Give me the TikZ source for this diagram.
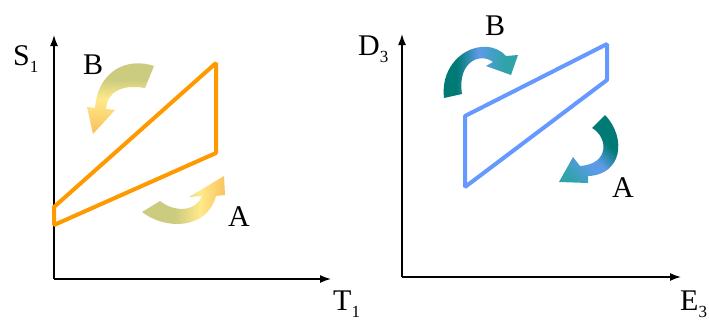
\documentclass[tikz,border=0pt]{standalone}
\usepackage{fontspec}
\setmainfont{Liberation Serif}
\usetikzlibrary{arrows.meta}
\definecolor{orangeline}{HTML}{FF9900}
\definecolor{blueline}{HTML}{6699FF}
\definecolor{khaki}{HTML}{CCCC80}
\definecolor{yellowL}{HTML}{FFE98A}
\definecolor{orangeL}{HTML}{F9C35F}
\definecolor{darkteal}{HTML}{007A74}
\definecolor{bluemid}{HTML}{5C9BE6}
\definecolor{tealh}{HTML}{2FA3A9}
\pgfdeclareverticalshading{shLB}{100bp}{color(0bp)=(orangeL); color(27bp)=(orangeL); color(48bp)=(yellowL); color(60bp)=(khaki); color(100bp)=(khaki)}
\pgfdeclarehorizontalshading{shLA}{100bp}{color(0bp)=(khaki); color(45bp)=(khaki); color(60bp)=(yellowL); color(75bp)=(orangeL); color(100bp)=(orangeL)}
\pgfdeclarehorizontalshading{shRB}{100bp}{color(0bp)=(darkteal); color(36bp)=(darkteal); color(50bp)=(bluemid); color(66bp)=(tealh); color(100bp)=(tealh)}
\pgfdeclarehorizontalshading{shRA}{100bp}{color(0bp)=(tealh); color(22bp)=(tealh); color(40bp)=(bluemid); color(46bp)=(bluemid); color(60bp)=(darkteal); color(100bp)=(darkteal)}
\newcommand{\sbs}[1]{\raisebox{-7pt}{\fontsize{17}{17}\selectfont #1}}
\tikzset{
  lbl/.style={inner sep=0pt, anchor=base west, font=\rmfamily\fontsize{30}{30}\selectfont},
  axisline/.style={line width=1.5pt, -{Latex[length=11pt,width=8pt]}},
  cycleline/.style={line width=4pt, line join=bevel},
}
\begin{document}
\begin{tikzpicture}[x=1pt,y=-1pt]
\useasboundingbox (0,0) rectangle (709,322);
% ---------- left panel ----------
\coordinate (o1) at (54,279);
\coordinate (y1) at (54,35);
\coordinate (x1) at (331,279);
\draw[axisline] (o1) -- (y1);
\draw[axisline] (o1) -- (x1);
\draw[cycleline, orangeline] (54,207) -- (216,63) -- (216,153) -- (54,225) -- cycle;
% B arrow (left)
\shade[shading=shLB] (154,66) .. controls (128,57) and (98,70) .. (95,108)
  -- (87,107) -- (93,134) -- (115,110) -- (106,109)
  .. controls (107,92) and (122,84) .. (145,88) -- cycle;
% A arrow (left)
\shade[shading=shLA] (142,212) .. controls (165,230) and (207,230) .. (216,196)
  -- (225,195) -- (224,176) -- (189,197) -- (202,196)
  .. controls (197,210) and (177,214) .. (160,201) -- cycle;
\node[lbl] (s1) at (13,65) {S\sbs{1}};
\node[lbl] (t1) at (333,310) {T\sbs{1}};
\node[lbl] (bl) at (83,74) {B};
\node[lbl] (al) at (228,226) {A};
% ---------- right panel ----------
\coordinate (o2) at (402,277);
\coordinate (y2) at (402,34);
\coordinate (x2) at (681,277);
\draw[axisline] (o2) -- (y2);
\draw[axisline] (o2) -- (x2);
\draw[cycleline, blueline] (465,116) -- (607,44) -- (607,80) -- (465,187) -- cycle;
% B arrow (right)
\shade[shading=shRB] (444,98) .. controls (439,55) and (485,33) .. (506,56)
  -- (518,55) -- (511,75) -- (486,66) -- (493,62)
  .. controls (480,52) and (457,62) .. (462,94) -- cycle;
% A arrow (right)
\shade[shading=shRA, shading angle=45] (605,115) .. controls (627,138) and (622,175) .. (588,176)
  -- (588,183) -- (559,182) -- (573,157) -- (580,166)
  .. controls (610,164) and (608,137) .. (592,128) -- cycle;
\node[lbl] (d3) at (358,55) {D\sbs{3}};
\node[lbl] (e3) at (680,310) {E\sbs{3}};
\node[lbl] (br) at (485,35) {B};
\node[lbl] (ar) at (612,197) {A};
\end{tikzpicture}
\end{document}
